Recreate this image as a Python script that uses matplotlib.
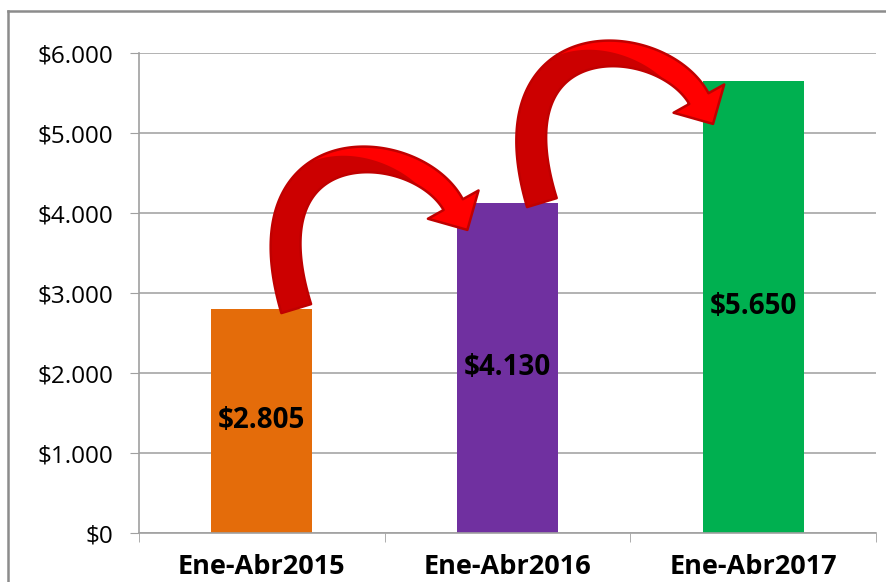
import matplotlib
matplotlib.use("Agg")
import matplotlib.pyplot as plt
import numpy as np
from matplotlib.lines import Line2D
from matplotlib.patches import Polygon

categories = ["Ene-Abr2015", "Ene-Abr2016", "Ene-Abr2017"]
values = [2805, 4130, 5650]
value_labels = ["$2.805", "$4.130", "$5.650"]
bar_colors = ["#E46C0A", "#7030A0", "#00B050"]
yticks = [0, 1000, 2000, 3000, 4000, 5000, 6000]
ytick_labels = ["$0", "$1.000", "$2.000", "$3.000", "$4.000", "$5.000", "$6.000"]

plt.rcParams["font.family"] = ["Open Sans", "DejaVu Sans"]

W, H = 887, 582
fig = plt.figure(figsize=(W / 100, H / 100), dpi=100)
ax = fig.add_axes([139 / W, 49 / H, (876 - 139) / W, (533 - 53) / H])

x = np.arange(len(categories))
ax.bar(x, values, width=0.41, color=bar_colors, zorder=2)
for xi, v, lab in zip(x, values, value_labels):
    ax.text(xi, v / 2, lab, ha="center", va="center", fontsize=20,
            fontweight="bold", color="black", zorder=5)

ax.set_xlim(-0.5, 2.5)
ax.set_ylim(0, 6000)
ax.set_yticks(yticks)
ax.set_yticklabels(ytick_labels, fontsize=17.5)
ax.set_xticks(x)
ax.set_xticklabels(categories, fontsize=19.5, fontweight="bold")
ax.set_xticks([-0.5, 0.5, 1.5, 2.5], minor=True)
ax.tick_params(axis="x", which="major", length=0, pad=15)
ax.tick_params(axis="x", which="minor", length=6.5, color="#A0A0A0", direction="out")
ax.tick_params(axis="y", length=6.5, color="#A0A0A0", direction="out", pad=12)
ax.grid(axis="y", color="#A6A6A6", linewidth=1.2, zorder=0)
for s in ["top", "right"]:
    ax.spines[s].set_visible(False)
for s in ["left", "bottom"]:
    ax.spines[s].set_color("#A0A0A0")
    ax.spines[s].set_linewidth(1.2)

# curved red arrow, shape given as pixel offsets from the tail (y up)
P = np.array([[0, 0], [-55, 182], [119, 172], [157, 104]], dtype=float)


def bez(t):
    t = t[:, None]
    return ((1 - t) ** 3 * P[0] + 3 * (1 - t) ** 2 * t * P[1]
            + 3 * (1 - t) * t ** 2 * P[2] + t ** 3 * P[3])


def dbez(t):
    t = t[:, None]
    return (3 * (1 - t) ** 2 * (P[1] - P[0]) + 6 * (1 - t) * t * (P[2] - P[1])
            + 3 * t ** 2 * (P[3] - P[2]))


t = np.linspace(0, 1, 120)
c = bez(t)
d = dbez(t)
d = d / np.linalg.norm(d, axis=1)[:, None]
n = np.column_stack([-d[:, 1], d[:, 0]])  # points to outer side
w = (31 - 9 * t)[:, None] / 2
outer = c + n * w
inner = c - n * w
tip = c[-1] + d[-1] * 29
wing_out = c[-1] + n[-1] * 29
wing_in = c[-1] - n[-1] * 29
arrow_px = np.vstack([outer, wing_out, tip, wing_in, inner[::-1]])

# darker twisted band on the rising part
s = np.clip((0.62 - t) / 0.22, -1, 1)[:, None]
band_px = np.vstack([c + n * w * s, inner[::-1]])

inv = ax.transData.inverted()
for i in range(len(values) - 1):
    tail = ax.transData.transform((x[i] + 0.14, values[i]))
    ax.add_patch(Polygon(inv.transform(arrow_px + tail), closed=True,
                         facecolor="#FF0000", edgecolor="none", zorder=4,
                         clip_on=False))
    ax.add_patch(Polygon(inv.transform(band_px + tail), closed=True,
                         facecolor="#CC0000", edgecolor="none", zorder=4,
                         clip_on=False))
    ax.add_patch(Polygon(inv.transform(arrow_px + tail), closed=True,
                         facecolor="none", edgecolor="#C00000",
                         linewidth=1.8, joinstyle="round", zorder=4,
                         clip_on=False))

# outer frame
fig.add_artist(Line2D([8 / W, 8 / W], [0, 1 - 11 / H], color="#8C8C8C", linewidth=1.8))
fig.add_artist(Line2D([8 / W, 1], [1 - 11 / H, 1 - 11 / H], color="#8C8C8C", linewidth=1.8))

fig.savefig("out.png", dpi=100)
